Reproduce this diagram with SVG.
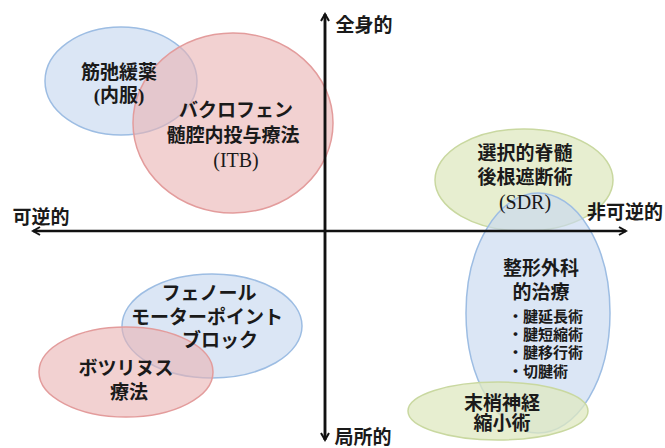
<svg xmlns="http://www.w3.org/2000/svg" width="665" height="448" viewBox="0 0 665 448">
<style>
.b{fill:#c7d9f0;fill-opacity:0.65;stroke:#9dbde3;stroke-width:1.5}
.p{fill:#eab3b3;fill-opacity:0.6;stroke:#e39c9c;stroke-width:1.5}
.g{fill:#dfe8c0;fill-opacity:0.75;stroke:#c9d8a0;stroke-width:1.5}
text{font-family:"Liberation Serif","Noto Sans CJK JP",serif;font-weight:700;font-size:19px;fill:#1a1a1a;text-anchor:middle}
.s{font-size:15px;text-anchor:start}
.n{font-weight:400;font-size:20px}
.ax{stroke:#111;stroke-width:2.5;fill:none}
</style>
<defs>
<marker id="ah" viewBox="0 0 10 10" refX="8" refY="5" markerWidth="4" markerHeight="4" orient="auto" markerUnits="strokeWidth">
<path d="M1,1 L8,5 L1,9" fill="none" stroke="#111" stroke-width="2"/>
</marker>
</defs>
<g id="kinshikan"><ellipse class="b" cx="121" cy="81" rx="76" ry="54"/></g>
<g id="baclofen"><ellipse class="p" cx="233" cy="123" rx="100" ry="90"/></g>
<g id="sdr"><ellipse class="g" cx="524" cy="180" rx="89" ry="51"/></g>
<g id="seikei"><ellipse class="b" cx="538" cy="313" rx="72" ry="120"/></g>
<g id="masshou"><ellipse class="g" cx="498" cy="411" rx="90" ry="29"/></g>
<g id="phenol"><ellipse class="b" cx="212" cy="326" rx="90" ry="52"/></g>
<g id="botox"><ellipse class="p" cx="126" cy="372" rx="87" ry="45"/></g>
<g id="axes">
<line class="ax" x1="325" y1="440" x2="325" y2="14" marker-end="url(#ah)"/>
<line class="ax" x1="325" y1="14" x2="325" y2="440" marker-end="url(#ah)"/>
<line class="ax" x1="325" y1="231" x2="33" y2="231" marker-end="url(#ah)"/>
<line class="ax" x1="325" y1="231" x2="626" y2="231" marker-end="url(#ah)"/>
</g>
<g id="labels">
<text x="364" y="32">全身的</text>
<text x="41" y="224">可逆的</text>
<text x="625" y="219">非可逆的</text>
<text x="363" y="444">局所的</text>
<text x="119" y="79">筋弛緩薬</text>
<text x="119" y="102">(内服)</text>
<text x="236" y="117">バクロフェン</text>
<text x="233" y="142">髄腔内投与療法</text>
<text class="n" x="236" y="167">(ITB)</text>
<text x="525" y="160">選択的脊髄</text>
<text x="525" y="184">後根遮断術</text>
<text class="n" x="525" y="209">(SDR)</text>
<text x="541" y="275">整形外科</text>
<text x="541" y="299">的治療</text>
<text class="s" x="508" y="322">・腱延長術</text>
<text class="s" x="508" y="340">・腱短縮術</text>
<text class="s" x="508" y="358">・腱移行術</text>
<text class="s" x="508" y="377">・切腱術</text>
<text x="502" y="410">末梢神経</text>
<text x="502" y="430">縮小術</text>
<text x="209" y="300">フェノール</text>
<text x="207" y="324">モーターポイント</text>
<text x="220" y="347">ブロック</text>
<text x="126" y="375">ボツリヌス</text>
<text x="129" y="399">療法</text>
</g>
</svg>
